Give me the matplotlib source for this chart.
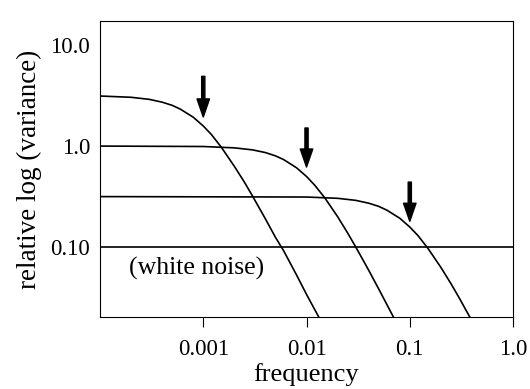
import matplotlib
matplotlib.use('Agg')
import matplotlib.pyplot as plt

plt.rcParams['font.family'] = ['Liberation Serif', 'DejaVu Serif']

# values (log-log spectra)
freq1 = [0.0001, 0.0002, 0.0003, 0.0004, 0.0005, 0.0006, 0.0008, 0.001, 0.0012,
         0.0015, 0.002, 0.0025, 0.003, 0.004, 0.005, 0.006, 0.008, 0.01, 0.014]
var1 = [3.13, 3.04, 2.90, 2.72, 2.53, 2.32, 1.93, 1.58, 1.30,
        0.97, 0.63, 0.44, 0.32, 0.19, 0.125, 0.092, 0.053, 0.034, 0.018]

freq2 = [0.0001, 0.001, 0.002, 0.003, 0.004, 0.005, 0.006, 0.008, 0.01,
         0.012, 0.015, 0.02, 0.025, 0.03, 0.04, 0.05, 0.06, 0.08]
var2 = [1.0, 0.99, 0.96, 0.917, 0.862, 0.80, 0.735, 0.61, 0.50,
        0.41, 0.308, 0.20, 0.138, 0.10, 0.059, 0.0385, 0.027, 0.0154]

freq3 = [0.0001, 0.01, 0.02, 0.03, 0.04, 0.05, 0.06, 0.08, 0.1,
         0.12, 0.15, 0.2, 0.25, 0.3, 0.4]
var3 = [0.316, 0.313, 0.304, 0.29, 0.272, 0.253, 0.232, 0.193, 0.158,
        0.130, 0.097, 0.063, 0.0436, 0.0316, 0.0186]

freq_white = [0.0001, 1.0]
var_white = [0.1, 0.1]

# arrows marking the corner frequencies: (freq, top, tip)
arrow_freq = [0.001, 0.01, 0.1]
arrow_top = [4.9, 1.51, 0.44]
arrow_tip = [1.94, 0.62, 0.18]

xticks = [0.001, 0.01, 0.1, 1.0]
xlabels = ['0.001', '0.01', '0.1', '1.0']
yticks = [10.0, 1.0, 0.1]
ylabels = ['10.0', '1.0', '0.10']

fig = plt.figure(figsize=(5.3, 3.89), dpi=100)
ax = fig.add_axes([0.1887, 0.185, 0.7793, 0.761])

for f, v in [(freq1, var1), (freq2, var2), (freq3, var3), (freq_white, var_white)]:
    ax.plot(f, v, color='black', lw=1.2)

for f, top, tip in zip(arrow_freq, arrow_top, arrow_tip):
    ax.annotate('', xy=(f, tip), xytext=(f, top),
                arrowprops=dict(facecolor='black', edgecolor='black', width=2.3,
                                headwidth=9, headlength=13, shrink=0))

ax.text(0.00019, 0.062, '(white noise)', fontsize=18.5, va='center', ha='left')

ax.set_xscale('log')
ax.set_yscale('log')
ax.set_xlim(0.0001, 1.0)
ax.set_ylim(0.0203, 17.3)

ax.set_xticks(xticks)
ax.set_xticklabels(xlabels)
ax.set_yticks(yticks)
ax.set_yticklabels(ylabels)
ax.minorticks_off()
ax.tick_params(axis='x', direction='out', length=7, width=0.8, pad=9, labelsize=16.5)
ax.tick_params(axis='y', length=0, pad=7, labelsize=16.5)

for s in ax.spines.values():
    s.set_linewidth(0.8)

ax.set_xlabel('frequency', fontsize=19, labelpad=2)
ax.set_ylabel('relative log (variance)', fontsize=19.5, labelpad=6)

fig.savefig('out.png', dpi=100)
